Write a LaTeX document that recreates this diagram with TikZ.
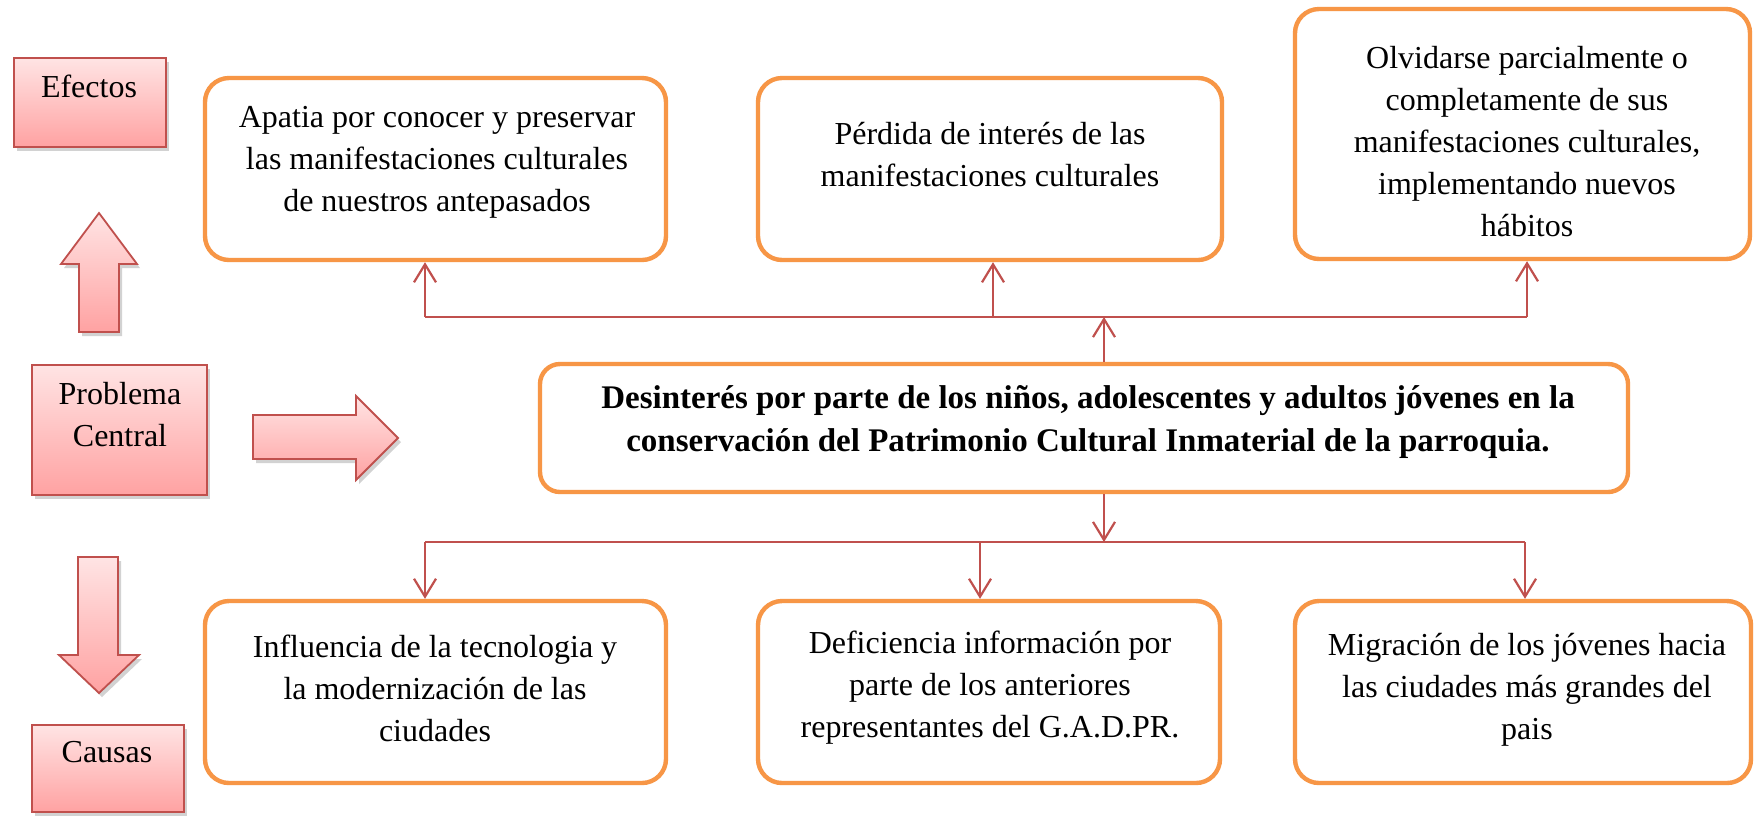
\documentclass[tikz,border=0pt]{standalone}
\usepackage{fontspec}
\setmainfont{Liberation Serif}
\usetikzlibrary{arrows.meta,shadows}
\definecolor{orangeb}{RGB}{247,150,70}
\definecolor{redb}{RGB}{192,80,77}
\definecolor{pinktop}{RGB}{255,228,228}
\definecolor{pinkbot}{RGB}{255,162,162}
\begin{document}
\begin{tikzpicture}[x=0.5pt,y=-0.5pt,
  obox/.style={draw=orangeb, line width=2.2pt, rounded corners=12pt, fill=white, inner sep=0pt},
  lbox/.style={draw=redb, line width=0.9pt, top color=pinktop, bottom color=pinkbot,
    drop shadow={shadow xshift=1.5pt,shadow yshift=-2pt,opacity=0.35}},
  txt/.style={align=center, font=\fontsize{16}{21}\selectfont, inner sep=0pt},
  btxt/.style={align=center, font=\bfseries\fontsize{16.5}{21}\selectfont, inner sep=0pt},
  conn/.style={draw=redb, line width=1.1pt},
  tipd/.style={-{Straight Barb[length=9pt,width=11pt]}}]
\useasboundingbox (0,0) rectangle (1754,816);
\fill[white] (0,0) rectangle (1754,816);

% left labels
\node[lbox, minimum width=76pt, minimum height=44.5pt, inner sep=0pt] (efectos) at (90,102.5) {};
\node[txt] (efectost) at (89,86) {Efectos};
\node[lbox, minimum width=87.5pt, minimum height=65pt, inner sep=0pt] (problema) at (119.5,430) {};
\node[txt] (problemat) at (120,415) {Problema\\Central};
\node[lbox, minimum width=76pt, minimum height=43.5pt, inner sep=0pt] (causas) at (108,768.5) {};
\node[txt] (causast) at (107,752) {Causas};

% block arrows
\draw[draw=redb, line width=0.9pt, top color=pinktop, bottom color=pinkbot,
  drop shadow={shadow xshift=1.5pt,shadow yshift=-2pt,opacity=0.35}]
  (79,332) -- (79,264) -- (61,264) -- (99,213) -- (137,264) -- (119,264) -- (119,332) -- cycle;
\draw[draw=redb, line width=0.9pt, top color=pinktop, bottom color=pinkbot,
  drop shadow={shadow xshift=1.5pt,shadow yshift=-2pt,opacity=0.35}]
  (253,415) -- (356,415) -- (356,396) -- (398,438) -- (356,480) -- (356,459) -- (253,459) -- cycle;
\draw[draw=redb, line width=0.9pt, top color=pinktop, bottom color=pinkbot,
  drop shadow={shadow xshift=1.5pt,shadow yshift=-2pt,opacity=0.35}]
  (78,557) -- (118,557) -- (118,655) -- (139,655) -- (99,693) -- (59,655) -- (78,655) -- cycle;

% effect boxes
\node[obox, minimum width=230.5pt, minimum height=91pt] (e1) at (435.5,169) {};
\node[txt] (e1t) at (437,162) {Apatia por conocer y preservar\\las manifestaciones culturales\\de nuestros antepasados};
\node[obox, minimum width=232pt, minimum height=91pt] (e2) at (990,169) {};
\node[txt] (e2t) at (990,155) {Pérdida de interés de las\\manifestaciones culturales};
\node[obox, minimum width=227.5pt, minimum height=125pt] (e3) at (1522.5,134) {};
\node[txt] (e3t) at (1527,142) {Olvidarse parcialmente o\\completamente de sus\\manifestaciones culturales,\\implementando nuevos\\hábitos};

% central problem
\node[obox, rounded corners=10pt, minimum width=544pt, minimum height=64pt] (c) at (1084,428) {};
\node[btxt] (ct) at (1088,422) {Desinterés por parte de los niños, adolescentes y adultos jóvenes en la\\conservación del Patrimonio Cultural Inmaterial de la parroquia.};

% cause boxes
\node[obox, minimum width=230.5pt, minimum height=91pt] (k1) at (435.5,692) {};
\node[txt] (k1t) at (435,688) {Influencia de la tecnologia y\\la modernización de las\\ciudades};
\node[obox, minimum width=231pt, minimum height=91pt] (k2) at (989,692) {};
\node[txt] (k2t) at (990,688) {Deficiencia información por\\parte de los anteriores\\representantes del G.A.D.PR.};
\node[obox, minimum width=228pt, minimum height=91pt] (k3) at (1523,692) {};
\node[txt] (k3t) at (1527,690) {Migración de los jóvenes hacia\\las ciudades más grandes del\\pais};

% connectors top
\coordinate (jt) at (1104,317);
\coordinate (tl) at (425,317);
\coordinate (tm) at (993,317);
\coordinate (tr) at (1527,317);
\draw[conn] (tl) -- (tr);
\draw[conn,tipd] (c.north -| jt) -- (jt);
\draw[conn,tipd] (tl) -- (tl |- e1.south);
\draw[conn,tipd] (tm) -- (tm |- e2.south);
\draw[conn,tipd] (tr) -- (tr |- e3.south);

% connectors bottom
\coordinate (jb) at (1104,542);
\coordinate (bl) at (425,542);
\coordinate (bm) at (980,542);
\coordinate (br) at (1525,542);
\draw[conn] (bl) -- (br);
\draw[conn,tipd] (c.south -| jb) -- (jb);
\draw[conn,tipd] (bl) -- (bl |- k1.north);
\draw[conn,tipd] (bm) -- (bm |- k2.north);
\draw[conn,tipd] (br) -- (br |- k3.north);
\end{tikzpicture}
\end{document}
